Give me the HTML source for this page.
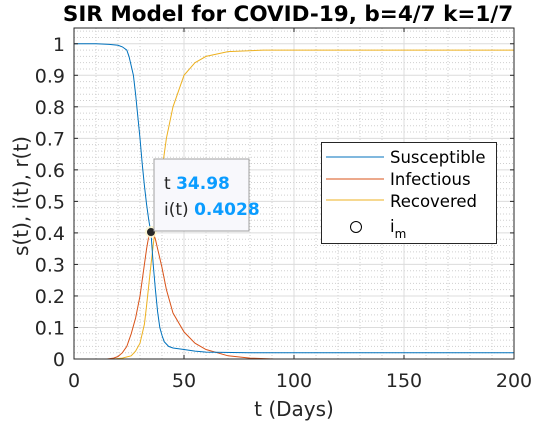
<!DOCTYPE html>
<html><head><meta charset="utf-8"><style>
body{margin:0;background:#fff;font-family:"Liberation Sans","DejaVu Sans",sans-serif}
svg{display:block}
</style></head><body>
<svg id="chart" width="536" height="423" xmlns="http://www.w3.org/2000/svg">
<g id="grid"></g>
<g id="lines"></g>
<g id="axes"></g>
<text x="288" y="21" text-anchor="middle" font-size="21.5" font-weight="bold" font-family="DejaVu Sans, sans-serif">SIR Model for COVID-19, b=4/7 k=1/7</text>
<text x="294" y="416" text-anchor="middle" font-size="20" fill="#262626" font-family="DejaVu Sans, sans-serif">t (Days)</text>
<text transform="translate(28,196) rotate(-90)" text-anchor="middle" font-size="20" fill="#262626" font-family="DejaVu Sans, sans-serif">s(t), i(t), r(t)</text>
<g>
<rect x="154" y="159" width="95" height="72" fill="#f8f8fc" stroke="#a0a0a0"/>
<text x="164" y="189" font-size="17" font-family="DejaVu Sans, sans-serif" fill="#262626">t <tspan fill="#0a9cff" font-weight="bold">34.98</tspan></text>
<text x="164" y="215" font-size="17" font-family="DejaVu Sans, sans-serif" fill="#262626">i(t) <tspan fill="#0a9cff" font-weight="bold">0.4028</tspan></text>
</g>
<g>
<rect x="321.5" y="142.5" width="175" height="101" fill="#fff" stroke="#262626"/>
<line x1="326" y1="157" x2="384" y2="157" stroke="#0072bd"/>
<text x="390" y="163" font-size="16.5" font-family="DejaVu Sans, sans-serif">Susceptible</text>
<line x1="326" y1="179" x2="384" y2="179" stroke="#d95319"/>
<text x="390" y="185" font-size="16.5" font-family="DejaVu Sans, sans-serif">Infectious</text>
<line x1="326" y1="200" x2="384" y2="200" stroke="#edb120"/>
<text x="390" y="207" font-size="16.5" font-family="DejaVu Sans, sans-serif">Recovered</text>
<circle cx="356" cy="227" r="5.5" fill="#fff" stroke="#000"/>
<text x="390" y="232" font-size="16.5" font-family="DejaVu Sans, sans-serif">i<tspan font-size="12" dy="6">m</tspan></text>
</g>
</svg>
<script>
const sT=[0,10,16,20,22,24,25,26,27,28,29,30,31,32,33,34,35,36,37,38,39,40,41,43,45,50,55,60,80,200];
const sV=[1,1,0.998,0.995,0.99,0.98,0.96,0.93,0.9,0.84,0.77,0.7,0.62,0.55,0.49,0.44,0.4,0.3,0.22,0.15,0.1,0.075,0.055,0.04,0.035,0.03,0.025,0.022,0.02,0.02];
const iT=[15,18,20,22,24,26,28,30,32,33,34,35,36,37,38,40,42,45,50,55,60,70,80,91];
const iV=[0,0.003,0.008,0.02,0.04,0.08,0.13,0.2,0.3,0.35,0.39,0.403,0.4,0.38,0.35,0.29,0.22,0.146,0.086,0.05,0.03,0.01,0.003,0];
const rT=[0,18,22,26,28,30,32,33,35,37,40,42,45,50,55,60,70,86,200];
const rV=[0,0,0.003,0.01,0.025,0.05,0.11,0.17,0.3,0.42,0.6,0.7,0.8,0.9,0.94,0.96,0.975,0.98,0.98];
const xTicks=[0,50,100,150,200];
const yTicks=[0,0.1,0.2,0.3,0.4,0.5,0.6,0.7,0.8,0.9,1];
const peakT=34.98, peakI=0.4028;
const X0=74,X1=514,Y0=359,Y1=28;
const xs=t=>X0+(t/200)*(X1-X0);
const ys=v=>Y0-(v/1.05)*(Y0-Y1);
const NS="http://www.w3.org/2000/svg";
function mk(tag,parent,attrs){const e=document.createElementNS(NS,tag);for(const k in attrs)e.setAttribute(k,attrs[k]);parent.appendChild(e);return e;}
const grid=document.getElementById('grid'),lines=document.getElementById('lines'),axes=document.getElementById('axes');
for(let t=10;t<200;t+=10){if(t%50===0)continue;const l=mk('line',grid,{x1:xs(t),x2:xs(t),y1:Y1,y2:Y0,stroke:'#cfcfcf','stroke-dasharray':'1 2'});

}
for(let k=1;k<53;k++){const v=k*0.02;if(k%5===0)continue;const l=mk('line',grid,{x1:X0,x2:X1,y1:ys(v),y2:ys(v),stroke:'#cfcfcf','stroke-dasharray':'1 2'});

}
xTicks.forEach(t=>{const l=mk('line',grid,{x1:xs(t),x2:xs(t),y1:Y1,y2:Y0,stroke:'#dcdcdc'});


const k=mk('line',axes,{x1:xs(t),x2:xs(t),y1:Y0,y2:Y0-4,stroke:'#262626'});


const k2=mk('line',axes,{x1:xs(t),x2:xs(t),y1:Y1,y2:Y1+4,stroke:'#262626'});


const tx=mk('text',axes,{x:xs(t),y:387,'text-anchor':'middle','font-size':19,fill:'#262626','font-family':'DejaVu Sans, sans-serif'});tx.textContent=t;

});
yTicks.forEach(v=>{const l=mk('line',grid,{x1:X0,x2:X1,y1:ys(v),y2:ys(v),stroke:'#dcdcdc'});


const k=mk('line',axes,{x1:X0,x2:X0+4,y1:ys(v),y2:ys(v),stroke:'#262626'});


const k2=mk('line',axes,{x1:X1,x2:X1-4,y1:ys(v),y2:ys(v),stroke:'#262626'});


const tx=mk('text',axes,{x:65,y:ys(v)+7,'text-anchor':'end','font-size':19,fill:'#262626','font-family':'DejaVu Sans, sans-serif'});tx.textContent=v;

});
const box=mk('rect',axes,{x:X0,y:Y1,width:X1-X0,height:Y0-Y1,fill:'none',stroke:'#262626'});


function series(T,V,color,name){const d=T.map((t,j)=>(j?'L':'M')+xs(t).toFixed(1)+' '+ys(V[j]).toFixed(1)).join(' ');
const p=mk('path',lines,{d:d,fill:'none',stroke:color,'stroke-width':1});

}
series(rT,rV,'#edb120','recovered-line');
series(iT,iV,'#d95319','infectious-line');
series(sT,sV,'#0072bd','susceptible-line');
const h=mk('circle',lines,{cx:xs(peakT),cy:ys(peakI),r:6,fill:'#fff8d0',opacity:0.8});


const m=mk('circle',lines,{cx:xs(peakT),cy:ys(peakI),r:4,fill:'#262626'});


</script>
</body></html>
